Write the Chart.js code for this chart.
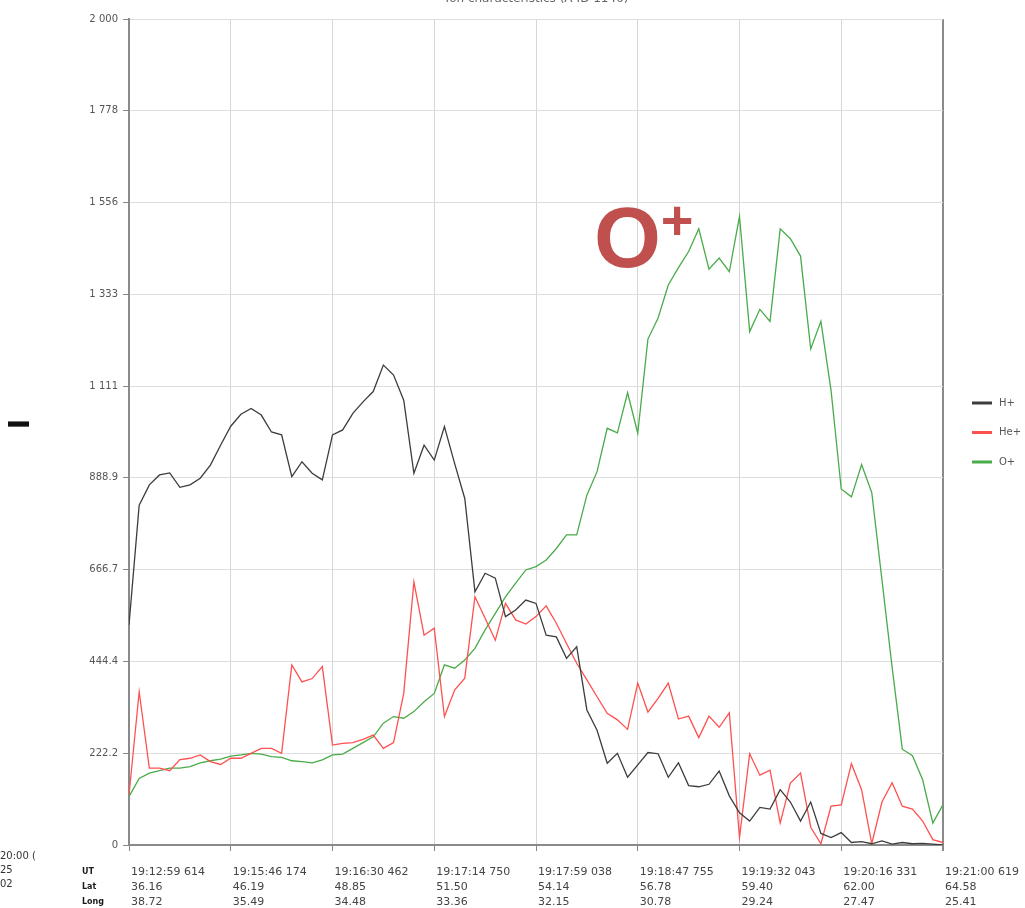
<!DOCTYPE html>
<html>
<head>
<meta charset="utf-8">
<script src="https://cdn.jsdelivr.net/npm/chart.js@4/dist/chart.umd.min.js"></script>
<style>
  html, body { margin: 0; padding: 0; background: #fff; }
  canvas { display: block; }
</style>
</head>
<body>
<canvas id="c" width="1025" height="908"></canvas>
<script>
// Ion densities along the pass, one sample per step (81 samples)
const hPlus = [
  533, 823, 872, 896, 901, 866, 872, 888, 920, 968,
  1014, 1043, 1057, 1041, 1000, 993, 892, 928, 900, 884,
  993, 1005, 1045, 1073, 1098, 1162, 1138, 1077, 900, 968,
  932, 1013, 924, 839, 613, 658, 646, 553, 569, 593,
  585, 508, 504, 452, 480, 327, 278, 198, 222, 164,
  194, 224, 221, 164, 199, 144, 141, 147, 179, 119,
  78, 58, 91, 87, 134, 104, 58, 104, 28, 18,
  30, 6, 8, 3, 10, 2, 6, 3, 4, 2, 0
];
const hePlus = [
  121, 371, 186, 186, 180, 207, 210, 218, 202, 195,
  210, 210, 222, 234, 234, 222, 436, 395, 403, 432,
  242, 246, 248, 256, 266, 234, 248, 367, 637, 508,
  525, 311, 375, 404, 601, 549, 496, 585, 545, 535,
  553, 579, 537, 488, 440, 400, 359, 319, 303, 280,
  392, 322, 355, 392, 305, 312, 260, 312, 285, 320,
  18, 221, 169, 181, 53, 150, 174, 43, 3, 94,
  97, 197, 134, 3, 104, 151, 94, 87, 58, 13, 6
];
const oPlus = [
  117, 161, 174, 180, 186, 186, 190, 199, 204, 208,
  215, 218, 222, 220, 214, 212, 204, 202, 199, 206,
  218, 220, 234, 248, 262, 295, 311, 307, 323, 347,
  367, 436, 428, 448, 476, 521, 561, 601, 634, 666,
  674, 690, 718, 751, 751, 847, 904, 1009, 998, 1095,
  997, 1225, 1276, 1356, 1398, 1437, 1492, 1394, 1421, 1388,
  1522, 1243, 1297, 1268, 1492, 1468, 1426, 1201, 1268, 1100,
  862, 843, 921, 853, 642, 430, 232, 216, 158, 53, 98
];

// Time / position labels, one every ten samples
const utLabels = ['19:12:59 614', '19:15:46 174', '19:16:30 462', '19:17:14 750', '19:17:59 038',
                  '19:18:47 755', '19:19:32 043', '19:20:16 331', '19:21:00 619'];
const latLabels = ['36.16', '46.19', '48.85', '51.50', '54.14', '56.78', '59.40', '62.00', '64.58'];
const longLabels = ['38.72', '35.49', '34.48', '33.36', '32.15', '30.78', '29.24', '27.47', '25.41'];
const samplesPerLabel = 10;

// Vertical axis
const yTickValues = [0, 222.2, 444.4, 666.7, 888.9, 1111.1, 1333.3, 1555.6, 1777.8, 2000];
const yTickLabels = ['0', '222.2', '444.4', '666.7', '888.9', '1 111', '1 333', '1 556', '1 778', '2 000'];

const seriesNames = ['H+', 'He+', 'O+'];
const seriesColors = ['#3d3d3d', '#ff5050', '#4aab4a'];
const seriesValues = [hPlus, hePlus, oPlus];

const chartTitle = 'Ion characteristics (A-ID 1146)';
const yTitle = 'I';
const rowCaptions = ['UT', 'Lat', 'Long'];
const cornerLines = ['20:00 (', '25', '02'];
const ionMark = { main: 'O', sup: '+' };

const toPoints = arr => arr.map((v, i) => ({ x: i, y: v }));

const overlay = {
  id: 'overlay',
  beforeDraw(chart) {
    const ctx = chart.ctx;
    ctx.save();
    ctx.fillStyle = '#fff';
    ctx.fillRect(0, 0, chart.width, chart.height);
    ctx.restore();
  },
  afterDraw(chart) {
    const ctx = chart.ctx;
    ctx.save();

    // title, mostly above the top edge
    ctx.fillStyle = '#666';
    ctx.font = '12px "DejaVu Sans"';
    ctx.textAlign = 'center';
    ctx.textBaseline = 'alphabetic';
    ctx.fillText(chartTitle, 537, 2);

    // legend
    ctx.font = '10px "DejaVu Sans"';
    ctx.textAlign = 'left';
    ctx.textBaseline = 'middle';
    chart.data.datasets.forEach((ds, i) => {
      const y = 403 + i * 29.5;
      ctx.strokeStyle = ds.borderColor;
      ctx.lineWidth = 3;
      ctx.beginPath();
      ctx.moveTo(972, y);
      ctx.lineTo(992, y);
      ctx.stroke();
      ctx.fillStyle = '#555';
      ctx.fillText(ds.label, 999, y);
    });

    // vertical axis title
    ctx.save();
    ctx.translate(22, 424);
    ctx.rotate(-Math.PI / 2);
    ctx.fillStyle = '#111';
    ctx.font = 'bold 28px "DejaVu Sans"';
    ctx.textAlign = 'center';
    ctx.textBaseline = 'middle';
    ctx.fillText(yTitle, 0, 0);
    ctx.restore();

    // captions of the three label rows under the time axis
    ctx.fillStyle = '#1a1a1a';
    ctx.font = 'bold 8px "DejaVu Sans"';
    ctx.textAlign = 'left';
    ctx.textBaseline = 'middle';
    rowCaptions.forEach((t, i) => ctx.fillText(t, 82, 872 + i * 15));

    // clipped text in the lower left corner
    ctx.fillStyle = '#333';
    ctx.font = '10px "DejaVu Sans"';
    cornerLines.forEach((t, i) => ctx.fillText(t, 0, 856 + i * 14));

    // ion annotation
    ctx.fillStyle = '#c0504d';
    ctx.textBaseline = 'alphabetic';
    ctx.textAlign = 'left';
    ctx.font = 'bold 86px "Liberation Sans"';
    ctx.fillText(ionMark.main, 594, 267);
    ctx.textAlign = 'center';
    ctx.font = 'bold 56px "Liberation Sans"';
    ctx.fillText(ionMark.sup, 677, 239);

    ctx.restore();
  }
};

new Chart(document.getElementById('c'), {
  type: 'line',
  data: {
    datasets: seriesValues.map((vals, i) => ({
      label: seriesNames[i],
      data: toPoints(vals),
      borderColor: seriesColors[i],
      backgroundColor: seriesColors[i],
      borderWidth: 1.3,
      pointRadius: 0,
      tension: 0,
      fill: false
    }))
  },
  options: {
    responsive: false,
    animation: false,
    devicePixelRatio: 1,
    layout: { padding: { top: 19, right: 82, left: 0, bottom: 0 } },
    plugins: {
      legend: { display: false },
      title: { display: false },
      tooltip: { enabled: false }
    },
    scales: {
      x: {
        type: 'linear',
        min: 0,
        max: (utLabels.length - 1) * samplesPerLabel,
        afterBuildTicks: s => { s.ticks = utLabels.map((_, k) => ({ value: k * samplesPerLabel })); },
        afterFit: s => { s.height = 63; s.paddingLeft = 0; s.paddingRight = 0; },
        ticks: {
          callback: (v, i) => [utLabels[i], latLabels[i], longLabels[i]],
          align: 'start',
          labelOffset: 2,
          maxRotation: 0,
          autoSkip: false,
          font: { family: 'DejaVu Sans', size: 11, lineHeight: 1.4 },
          color: '#444',
          padding: 13
        },
        grid: {
          color: c => c.index === utLabels.length - 1 ? '#8a8a8a' : '#d6d6d6',
          lineWidth: c => c.index === utLabels.length - 1 ? 2 : 1,
          tickLength: 6,
          tickColor: '#888'
        },
        border: { color: '#8a8a8a', width: 2 }
      },
      y: {
        min: 0,
        max: 2000,
        afterBuildTicks: s => { s.ticks = yTickValues.map(v => ({ value: v })); },
        afterFit: s => { s.width = 129; },
        ticks: {
          callback: (v, i) => yTickLabels[i],
          font: { family: 'DejaVu Sans', size: 10 },
          color: '#555',
          padding: 5
        },
        grid: { color: '#dedede', lineWidth: 1, tickLength: 6, tickColor: '#888' },
        border: { color: '#8a8a8a', width: 2 }
      }
    }
  },
  plugins: [overlay]
});
</script>
</body>
</html>
